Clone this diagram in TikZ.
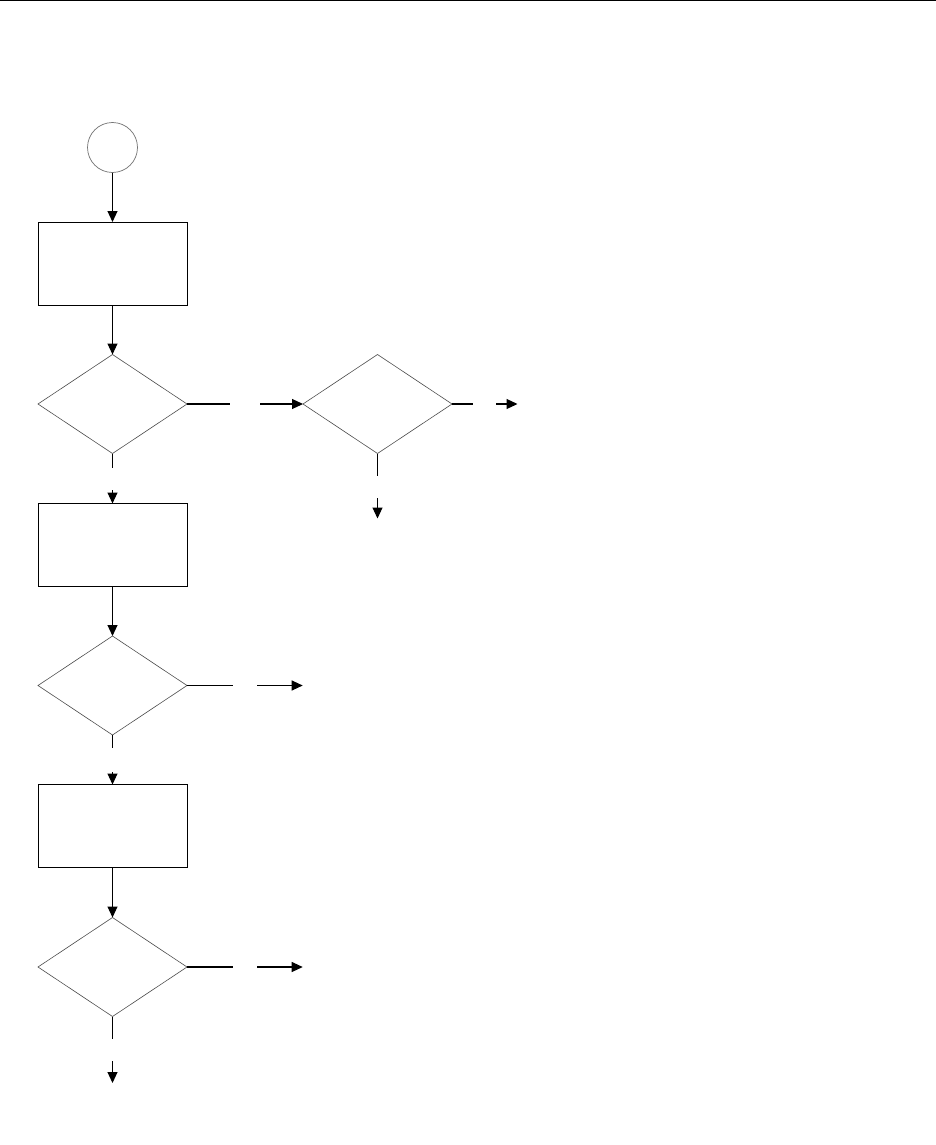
\documentclass[tikz,border=0pt]{standalone}
\usetikzlibrary{shapes.geometric,arrows.meta}
\begin{document}
\begin{tikzpicture}[x=1pt,y=-1pt,
  startnode/.style={circle,draw=black!55,line width=0.7pt,minimum size=50pt,inner sep=0pt,outer sep=0pt},
  procbox/.style={rectangle,draw=black,line width=1pt,minimum width=149pt,minimum height=83pt,inner sep=0pt,outer sep=0pt},
  decision/.style={diamond,draw=black!70,line width=0.6pt,minimum width=149pt,minimum height=99pt,inner sep=0pt,outer sep=0pt},
  conn/.style={line width=1.1pt},
  arr/.style={line width=1.1pt,-{Triangle[length=11pt,width=10pt]}}]
\useasboundingbox (0,0) rectangle (936,1145);
\draw[line width=1.5pt] (0,0.75) -- (936,0.75);
\node[startnode] (start) at (112.5,147.5) {};
\node[procbox] (b1) at (112.5,263.5) {};
\node[decision] (d1) at (112.5,404) {};
\node[decision] (d2) at (377.5,404) {};
\node[procbox] (b2) at (112.5,545) {};
\node[decision] (d3) at (112.5,685.5) {};
\node[procbox] (b3) at (112.5,826) {};
\node[decision] (d4) at (112.5,967) {};
% free ends
\coordinate (d1e) at (230,404);
\coordinate (d1e2) at (260,404);
\coordinate (d2e) at (473,404);
\coordinate (d2e2) at (496,404);
\coordinate (d2x) at (517.5,404);
\coordinate (d2s) at (377.5,476);
\coordinate (d2s2) at (377.5,498);
\coordinate (d2y) at (377.5,518.5);
\coordinate (d1s) at (112.5,468);
\coordinate (d1s2) at (112.5,490);
\coordinate (d3e) at (232.5,685.5);
\coordinate (d3e2) at (257,685.5);
\coordinate (d3x) at (302.7,685.5);
\coordinate (d3s) at (112.5,748);
\coordinate (d3s2) at (112.5,772);
\coordinate (d4e) at (232.5,967);
\coordinate (d4e2) at (257,967);
\coordinate (d4x) at (302.7,967);
\coordinate (d4s) at (112.5,1038.5);
\coordinate (d4s2) at (112.5,1061);
\coordinate (d4y) at (112.5,1083);
% connectors
\draw[arr] (start.south) -- (b1.north);
\draw[arr] (b1.south) -- (d1.north);
\draw[conn] (d1.east) -- (d1e);
\draw[arr] (d1e2) -- (d2.west);
\draw[conn] (d2.east) -- (d2e);
\draw[arr] (d2e2) -- (d2x);
\draw[conn] (d2.south) -- (d2s);
\draw[arr] (d2s2) -- (d2y);
\draw[conn] (d1.south) -- (d1s);
\draw[arr] (d1s2) -- (b2.north);
\draw[arr] (b2.south) -- (d3.north);
\draw[conn] (d3.east) -- (d3e);
\draw[arr] (d3e2) -- (d3x);
\draw[conn] (d3.south) -- (d3s);
\draw[arr] (d3s2) -- (b3.north);
\draw[arr] (b3.south) -- (d4.north);
\draw[conn] (d4.east) -- (d4e);
\draw[arr] (d4e2) -- (d4x);
\draw[conn] (d4.south) -- (d4s);
\draw[arr] (d4s2) -- (d4y);
\end{tikzpicture}
\end{document}
